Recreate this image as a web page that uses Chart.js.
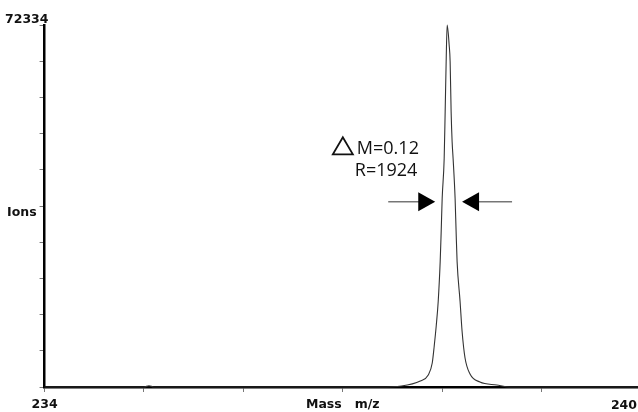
<!DOCTYPE html>
<html>
<head>
<meta charset="utf-8">
<script src="https://cdn.jsdelivr.net/npm/chart.js@4/dist/chart.umd.min.js"></script>
<style>
  html, body { margin: 0; padding: 0; background: #fff; }
  #wrap { width: 638px; height: 412px; position: relative; }
</style>
</head>
<body>
<div id="wrap"><canvas id="spectrum"></canvas></div>
<script>
// Mass spectrum values
const massValues = [234.00, 235.00, 235.05, 235.10, 237.37, 237.59, 237.78, 237.86, 237.90, 237.92,
    237.94, 237.96, 237.98, 237.99, 238.00, 238.02, 238.03, 238.04, 238.05, 238.07,
    238.08, 238.09, 238.10, 238.11, 238.13, 238.14, 238.15, 238.18, 238.20, 238.23,
    238.28, 238.38, 238.55, 238.68, 239.97];
const ionCounts = [0, 0, 250, 0, 0, 200, 1200, 2400, 4800, 8200,
    12200, 17100, 25100, 31100, 37700, 45600, 55000, 65000, 72334, 68400,
    65000, 55000, 49000, 45600, 37700, 31100, 25100, 17100, 11200, 5800,
    2600, 1000, 400, 0, 0];

const massMin = 234;
const massMax = 240;
const axisEnd = 239.97;   // plot edge stops just short of 240
const ionsMax = 72334;

// Resolution annotation (arrow level, arrow tips, label anchor)
const arrowIons = 37000;
const arrowTipLeft = 237.93;
const arrowTipRight = 238.20;
const labelMass = 236.90;
const labelIons = 46500;
const annotationLines = ['M=0.12', 'R=1924'];

const axisFont = { family: 'DejaVu Sans', size: 12.5, weight: 'bold' };

const annotationPlugin = {
    id: 'spectrumText',
    afterDraw(chart) {
        const ctx = chart.ctx;
        const xs = chart.scales.x;
        const ys = chart.scales.y;
        ctx.save();

        // top-of-scale value and right end label
        ctx.fillStyle = '#111';
        ctx.font = 'bold 12.5px "DejaVu Sans"';
        ctx.textBaseline = 'alphabetic';
        ctx.textAlign = 'left';
        ctx.fillText(String(ionsMax), 5, ys.getPixelForValue(ionsMax) - 2);
        ctx.textAlign = 'right';
        ctx.fillText(String(massMax), chart.width - 1, 409);

        // delta triangle + text
        const x0 = xs.getPixelForValue(labelMass);
        const y0 = ys.getPixelForValue(labelIons);
        ctx.strokeStyle = '#111';
        ctx.lineWidth = 1.8;
        ctx.beginPath();
        ctx.moveTo(x0, y0);
        ctx.lineTo(x0 + 20, y0);
        ctx.lineTo(x0 + 10, y0 - 17);
        ctx.closePath();
        ctx.stroke();

        ctx.font = '18px "Open Sans"';
        ctx.textAlign = 'left';
        ctx.fillText(annotationLines[0], x0 + 24, y0);
        ctx.fillText(annotationLines[1], x0 + 22, y0 + 22);

        // FWHM arrows
        const y = ys.getPixelForValue(arrowIons);
        const xl = xs.getPixelForValue(arrowTipLeft);
        const xr = xs.getPixelForValue(arrowTipRight);
        ctx.lineWidth = 1;
        ctx.strokeStyle = '#333';
        ctx.beginPath();
        ctx.moveTo(xl - 47, y);
        ctx.lineTo(xl - 16, y);
        ctx.moveTo(xr + 16, y);
        ctx.lineTo(xr + 50, y);
        ctx.stroke();

        ctx.fillStyle = '#000';
        ctx.beginPath();
        ctx.moveTo(xl, y);
        ctx.lineTo(xl - 17, y - 9.5);
        ctx.lineTo(xl - 17, y + 9.5);
        ctx.closePath();
        ctx.fill();
        ctx.beginPath();
        ctx.moveTo(xr, y);
        ctx.lineTo(xr + 17, y - 9.5);
        ctx.lineTo(xr + 17, y + 9.5);
        ctx.closePath();
        ctx.fill();

        ctx.restore();
    }
};

new Chart(document.getElementById('spectrum'), {
    type: 'line',
    data: {
        datasets: [{
            data: massValues.map((m, i) => ({ x: m, y: ionCounts[i] })),
            borderColor: '#333',
            borderWidth: 1.1,
            pointRadius: 0,
            fill: false,
            tension: 0,
            cubicInterpolationMode: 'monotone',
            clip: false
        }]
    },
    options: {
        responsive: true,
        maintainAspectRatio: false,
        animation: false,
        layout: { padding: { left: 4, top: 25, right: 0, bottom: -5 } },
        plugins: {
            legend: { display: false },
            tooltip: { enabled: false }
        },
        scales: {
            x: {
                type: 'linear',
                min: massMin,
                max: axisEnd,
                afterFit: function (scale) { scale.paddingRight = 0; },
                grid: { drawOnChartArea: false, drawTicks: true, tickLength: 5, color: '#777', lineWidth: 1 },
                border: { display: true, color: '#000', width: 2.5 },
                ticks: {
                    stepSize: 1,
                    autoSkip: false,
                    maxRotation: 0,
                    padding: 5,
                    color: '#111',
                    font: axisFont,
                    callback: function (value) {
                        if (value === 234) return '234';
                        if (value === 237) return 'Mass   m/z';
                        return '';
                    }
                }
            },
            y: {
                min: 0,
                max: ionsMax,
                grid: { drawOnChartArea: false, drawTicks: true, tickLength: 5, color: '#777', lineWidth: 1 },
                border: { display: true, color: '#000', width: 2.5 },
                ticks: {
                    count: 11,
                    padding: 3,
                    labelOffset: 7,
                    color: '#111',
                    font: axisFont,
                    callback: function (value, index) {
                        return index === 5 ? 'Ions' : '';
                    }
                }
            }
        }
    },
    plugins: [annotationPlugin]
});
</script>
</body>
</html>
